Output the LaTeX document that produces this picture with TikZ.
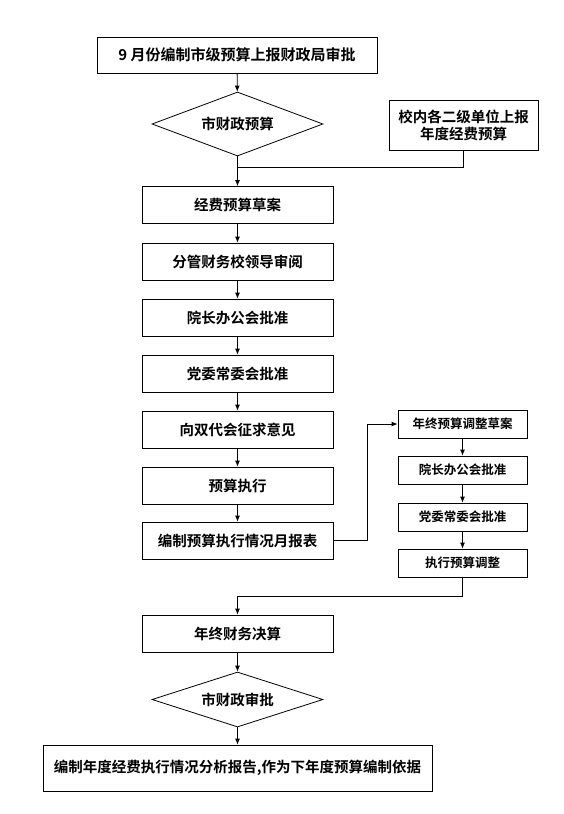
\documentclass[tikz,border=0pt]{standalone}
\usepackage{fontspec}
\setmainfont{Noto Sans CJK SC Bold}
\usetikzlibrary{shapes.geometric,arrows.meta}

\begin{document}
\begin{tikzpicture}[x=1pt,y=-1pt,
    box/.style={draw,line width=0.8pt,inner sep=0pt,minimum width=191pt,minimum height=37pt,font=\fontsize{14.5}{17}\selectfont},
    sidebox/.style={draw,line width=0.8pt,inner sep=0pt,minimum width=129pt,minimum height=28pt,font=\fontsize{12.5}{15}\selectfont},
    choice/.style={draw,diamond,aspect=2.7,line width=0.8pt,inner sep=0pt,minimum width=171pt,minimum height=64pt,font=\fontsize{14.5}{17}\selectfont},
    arr/.style={line width=0.8pt,-{Latex[length=6pt,width=5pt]}},
    ln/.style={line width=0.8pt}]
  \useasboundingbox (0,0) rectangle (563,814);
  % main column
  \node[box,minimum width=280pt,minimum height=36pt,font=\fontsize{15}{18}\selectfont] (plan) at (237,55) {9 月份编制市级预算上报财政局审批};
  \node[choice] (city) at (237.5,124) {市财政预算};
  \node[box,minimum width=149pt,minimum height=50pt,align=center] (units) at (463.5,125) {校内各二级单位上报\\年度经费预算};
  \node[box] (draft) at (237.5,205) {经费预算草案};
  \node[box] (lead) at (237.5,261.5) {分管财务校领导审阅};
  \node[box] (dean) at (237.5,317.5) {院长办公会批准};
  \node[box] (party) at (237.5,373.5) {党委常委会批准};
  \node[box] (cong) at (237.5,429.5) {向双代会征求意见};
  \node[box] (exec) at (237.5,485.5) {预算执行};
  \node[box] (month) at (237.5,540.5) {编制预算执行情况月报表};
  % adjustment column
  \node[sidebox] (adj1) at (462.5,424) {年终预算调整草案};
  \node[sidebox] (adj2) at (462.5,470) {院长办公会批准};
  \node[sidebox] (adj3) at (462.5,517) {党委常委会批准};
  \node[sidebox] (adj4) at (462.5,563) {执行预算调整};
  % year end
  \node[box] (final) at (237.5,633.5) {年终财务决算};
  \node[choice,aspect=3.1,minimum height=55pt] (check) at (237.5,699.5) {市财政审批};
  \node[box,minimum width=389pt,minimum height=46pt] (report) at (237.5,768) {编制年度经费执行情况分析报告,作为下年度预算编制依据};

  \coordinate (join1) at (237.5,167);
  \coordinate (join2) at (367,424);
  \coordinate (join3) at (237.5,596);

  \draw[arr] (plan) -- (city);
  \draw[arr] (city) -- (draft);
  \draw[ln] (units.south) |- (join1);
  \draw[arr] (draft) -- (lead);
  \draw[arr] (lead) -- (dean);
  \draw[arr] (dean) -- (party);
  \draw[arr] (party) -- (cong);
  \draw[arr] (cong) -- (exec);
  \draw[arr] (exec) -- (month);
  \draw[arr] (month.east) -| (join2) -- (adj1.west);
  \draw[arr] (adj1) -- (adj2);
  \draw[arr] (adj2) -- (adj3);
  \draw[arr] (adj3) -- (adj4);
  \draw[arr] (adj4.south) |- (join3) -- (final.north);
  \draw[arr] (final) -- (check);
  \draw[arr] (check) -- (report);
\end{tikzpicture}
\end{document}
